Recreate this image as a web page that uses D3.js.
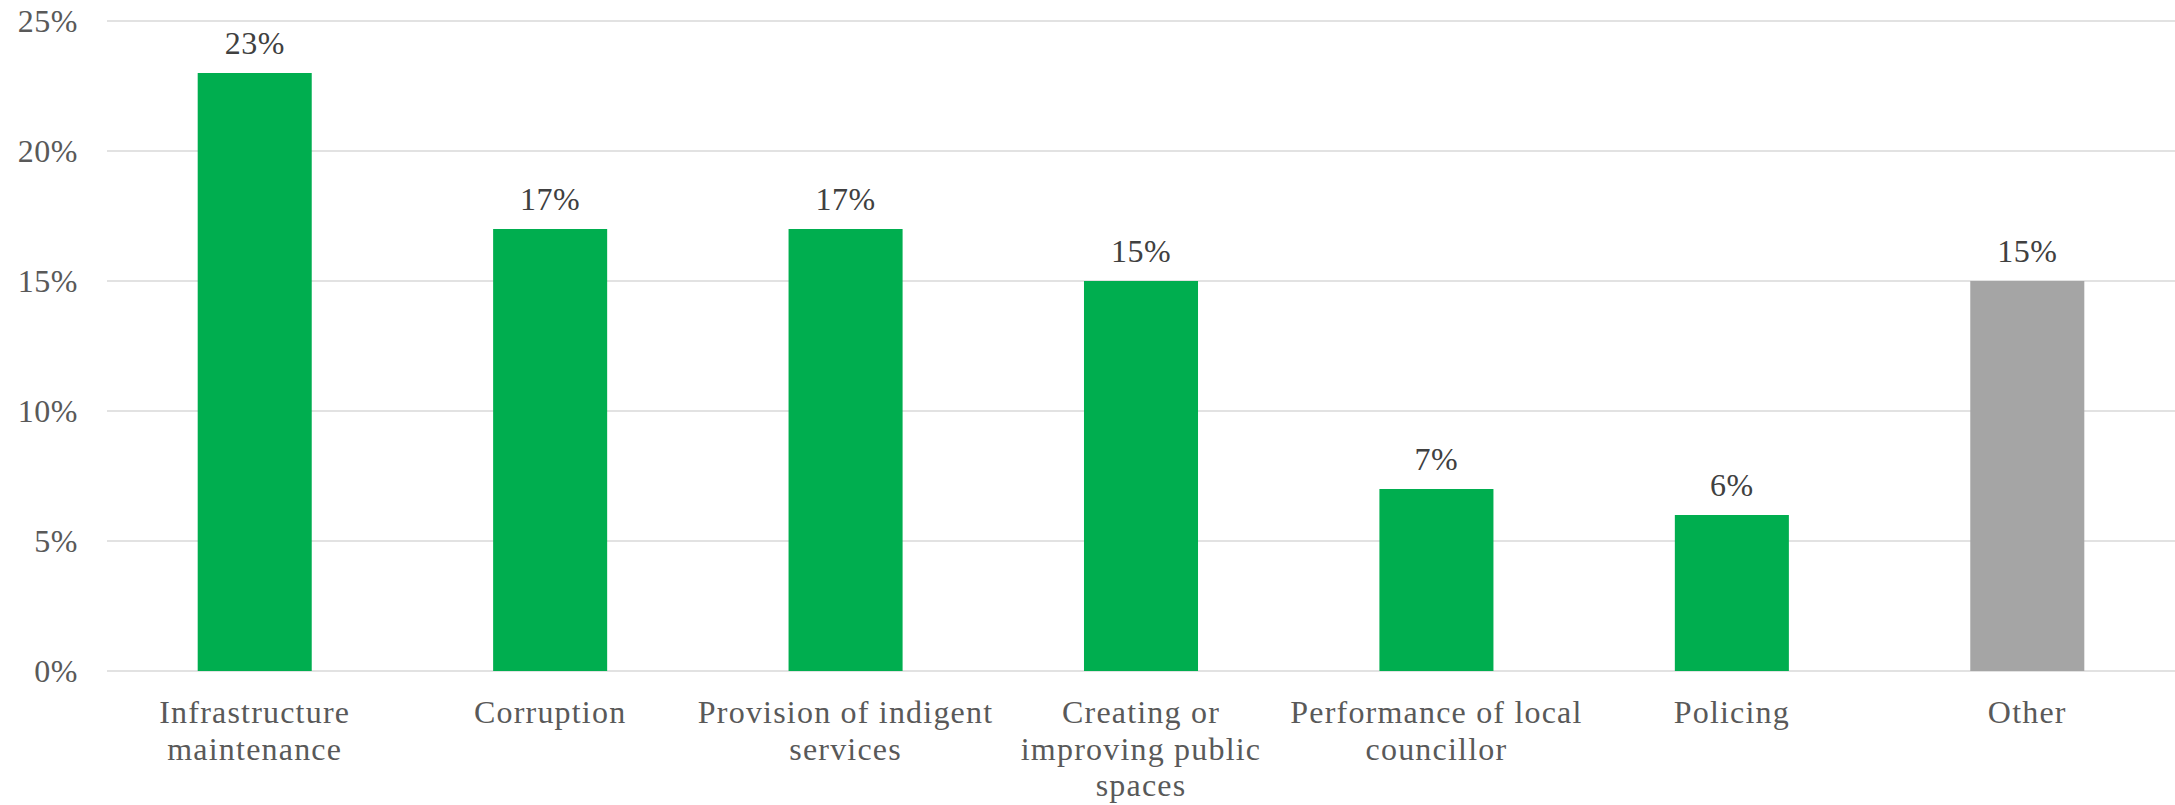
<!DOCTYPE html>
<html>
<head>
<meta charset="utf-8">
<script src="https://cdn.jsdelivr.net/npm/d3@7"></script>
<style>
  body { margin: 0; background: #fff; }
  svg text { font-family: "Liberation Serif", "DejaVu Serif", serif; }
</style>
</head>
<body>
<svg id="chart"></svg>
<script>
// categories, as shown (with the line breaks of the axis labels)
const categories = [
    'Infrastructure maintenance',
    'Corruption',
    'Provision of indigent services',
    'Creating or improving public spaces',
    'Performance of local councillor',
    'Policing',
    'Other'
];
const tickLines = [
    ['Infrastructure', 'maintenance'],
    ['Corruption'],
    ['Provision of indigent', 'services'],
    ['Creating or', 'improving public', 'spaces'],
    ['Performance of local', 'councillor'],
    ['Policing'],
    ['Other']
];
const values = [0.23, 0.17, 0.17, 0.15, 0.07, 0.06, 0.15];
const yTicks = [0, 0.05, 0.10, 0.15, 0.20, 0.25];

const width = 2175, height = 805;
const margin = { top: 21, right: 0, bottom: 134, left: 107 };
const innerW = width - margin.left - margin.right;
const innerH = height - margin.top - margin.bottom;

const svg = d3.select('#chart')
    .attr('width', width)
    .attr('height', height);

const chart = svg.append('g')
    .attr('transform', `translate(${margin.left},${margin.top})`);

const xScale = d3.scaleBand()
    .domain(categories)
    .range([0, innerW])
    .paddingInner(0.614)
    .paddingOuter(0.307);

const yScale = d3.scaleLinear()
    .domain([0, 0.25])
    .range([innerH, 0]);

// gridlines
chart.append('g')
    .selectAll('line')
    .data(yTicks)
    .enter()
    .append('line')
    .attr('x1', 0)
    .attr('x2', innerW)
    .attr('y1', d => yScale(d))
    .attr('y2', d => yScale(d))
    .attr('stroke', '#d9d9d9')
    .attr('stroke-width', 1.4);

// y axis labels
const yAxis = d3.axisLeft(yScale)
    .tickValues(yTicks)
    .tickFormat(d3.format('.0%'))
    .tickSize(0)
    .tickPadding(29);
const yAxisG = chart.append('g').attr('class', 'axis y-axis').call(yAxis);
yAxisG.select('.domain').remove();
yAxisG.selectAll('text')
    .attr('fill', '#595959')
    .attr('font-size', 32)
    .attr('letter-spacing', 0.5)
    .attr('font-family', '"Liberation Serif", serif');

// bars
chart.selectAll('.bar')
    .data(values)
    .enter()
    .append('rect')
    .attr('class', 'bar')
    .attr('fill', (d, i) => categories[i] === 'Other' ? '#a5a5a5' : '#00ae4f')
    .attr('x', (d, i) => xScale(categories[i]))
    .attr('y', d => yScale(d))
    .attr('width', xScale.bandwidth())
    .attr('height', d => innerH - yScale(d));

// value labels
chart.selectAll('.val')
    .data(values)
    .enter()
    .append('text')
    .attr('class', 'val')
    .attr('x', (d, i) => xScale(categories[i]) + xScale.bandwidth() / 2)
    .attr('y', d => yScale(d) - 19)
    .attr('text-anchor', 'middle')
    .attr('fill', '#404040')
    .attr('font-size', 32)
    .attr('letter-spacing', 0.5)
    .text(d => d3.format('.0%')(d));

// x axis labels
const xAxis = d3.axisBottom(xScale).tickSize(0).tickFormat('');
const xAxisG = chart.append('g')
    .attr('class', 'axis x-axis')
    .attr('transform', `translate(0,${innerH})`)
    .call(xAxis);
xAxisG.select('.domain').remove();
xAxisG.selectAll('.tick').each(function(d, i) {
    const t = d3.select(this).select('text')
        .attr('y', 52)
        .attr('dy', 0)
        .attr('fill', '#595959')
        .attr('font-size', 32)
        .attr('letter-spacing', 1.2)
        .attr('font-family', '"Liberation Serif", serif')
        .attr('text-anchor', 'middle');
    tickLines[i].forEach((line, j) => {
        t.append('tspan')
            .attr('x', 0)
            .attr('y', 52 + j * 36.5)
            .text(line);
    });
});
</script>
</body>
</html>
